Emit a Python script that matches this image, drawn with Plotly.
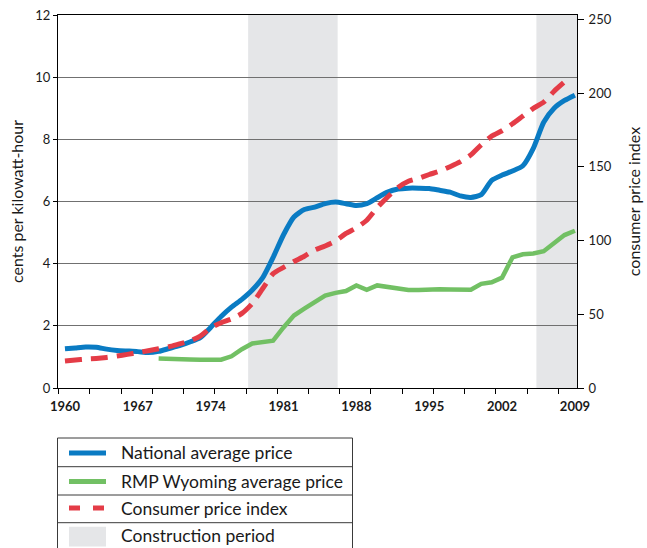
import plotly.graph_objects as go

# ---------------- data ----------------
YEARS = list(range(1960, 2010))

NATIONAL = [1.26, 1.29, 1.32, 1.31, 1.25, 1.21, 1.19, 1.17, 1.14, 1.18,
            1.27, 1.36, 1.48, 1.62, 1.95, 2.30, 2.60, 2.85, 3.15, 3.55,
            4.20, 4.93, 5.50, 5.74, 5.82, 5.93, 5.98, 5.93, 5.87, 5.93,
            6.12, 6.30, 6.40, 6.43, 6.43, 6.42, 6.36, 6.30, 6.18, 6.13,
            6.22, 6.68, 6.85, 6.98, 7.15, 7.71, 8.55, 9.00, 9.25, 9.42]

WYOMING_YEARS = list(range(1969, 2010))
WYOMING = [0.95, 0.93, 0.92, 0.92, 0.91, 0.91, 0.91, 1.02, 1.25, 1.43,
           1.46, 1.52, 1.95, 2.33, 2.55, 2.78, 2.97, 3.06, 3.12, 3.30,
           3.16, 3.30, 3.24, 3.19, 3.15, 3.15, 3.18, 3.18, 3.17, 3.16,
           3.16, 3.35, 3.40, 3.55, 4.20, 4.30, 4.33, 4.40, 4.65, 4.92, 5.06]

CPI_YEARS = list(range(1960, 2009))
CPI = [18.3, 19.0, 19.6, 20.0, 20.7, 21.7, 22.8, 24.0, 25.3, 26.6,
       28.0, 29.9, 31.8, 35.2, 40.7, 44.3, 46.8, 50.6, 57.3, 67.5,
       77.6, 81.8, 85.8, 89.4, 93.6, 96.3, 99.7, 104.8, 108.6, 113.8,
       122.3, 129.6, 136.0, 140.2, 142.3, 144.8, 147.1, 150.1, 153.5, 158.1,
       164.9, 170.8, 174.5, 179.2, 184.5, 189.7, 193.9, 201.3, 207.6]

CONSTRUCTION = [(1977.6, 1986.2), (2005.3, 2009.3)]

X_TICKS = [1960, 1967, 1974, 1981, 1988, 1995, 2002, 2009]
Y_TICKS = [0, 2, 4, 6, 8, 10, 12]
Y2_TICKS = [0, 50, 100, 150, 200, 250]

LEGEND_LABELS = ["National average price", "RMP Wyoming average price",
                 "Consumer price index", "Construction period"]

# ---------------- styling ----------------
BLUE = "#0a7bc3"
GREEN = "#72c064"
RED = "#e43c47"
SHADE = "#e5e6e8"
FONT = "Lato"
INK = "#1a1a1a"

W, H = 647, 548
ML, MR, MT, MB = 58, 70, 15, 160
PW, PH = W - ML - MR, H - MT - MB

fig = go.Figure()

fig.add_trace(go.Scatter(x=YEARS, y=NATIONAL, mode="lines", name=LEGEND_LABELS[0],
                         line=dict(color=BLUE, width=5, shape="spline", smoothing=0.6),
                         showlegend=False))
fig.add_trace(go.Scatter(x=WYOMING_YEARS, y=WYOMING, mode="lines", name=LEGEND_LABELS[1],
                         line=dict(color=GREEN, width=4.5),
                         showlegend=False))
fig.add_trace(go.Scatter(x=CPI_YEARS, y=CPI, mode="lines", name=LEGEND_LABELS[2],
                         yaxis="y2",
                         line=dict(color=RED, width=5, dash="17px,9px", shape="spline", smoothing=0.6),
                         showlegend=False))

for x0, x1 in CONSTRUCTION:
    fig.add_shape(type="rect", xref="x", yref="paper", x0=x0, x1=x1, y0=0, y1=1,
                  fillcolor=SHADE, line=dict(width=0), layer="below")

# ---------------- manual legend (table style) ----------------
def px_x(p):
    return (p - ML) / PW

def px_y(p):
    return (H - MB - p) / PH

box_l, box_r = 57.5, 352.5
rows = [438, 466.7, 495, 522.7, 552]
fig.add_shape(type="rect", xref="paper", yref="paper",
              x0=px_x(box_l), x1=px_x(box_r), y0=px_y(rows[0]), y1=px_y(rows[-1]),
              line=dict(color="#3a3a3a", width=1), fillcolor="rgba(0,0,0,0)")
for r in rows[1:-1]:
    fig.add_shape(type="line", xref="paper", yref="paper",
                  x0=px_x(box_l), x1=px_x(box_r), y0=px_y(r), y1=px_y(r),
                  line=dict(color="#3a3a3a", width=1))

centers = [452.5, 481.0, 508.0, 535.5]
sx0, sx1 = 69, 106
fig.add_shape(type="line", xref="paper", yref="paper", x0=px_x(sx0), x1=px_x(sx1),
              y0=px_y(453), y1=px_y(453), line=dict(color=BLUE, width=5))
fig.add_shape(type="line", xref="paper", yref="paper", x0=px_x(sx0), x1=px_x(sx1),
              y0=px_y(481.5), y1=px_y(481.5), line=dict(color=GREEN, width=5))
fig.add_shape(type="line", xref="paper", yref="paper", x0=px_x(sx0), x1=px_x(sx1),
              y0=px_y(508), y1=px_y(508),
              line=dict(color=RED, width=5, dash="11px,13px"))
fig.add_shape(type="rect", xref="paper", yref="paper", x0=px_x(sx0), x1=px_x(sx1),
              y0=px_y(526.7), y1=px_y(546.5), fillcolor=SHADE, line=dict(width=0))

for lab, cy in zip(LEGEND_LABELS, centers):
    fig.add_annotation(text=lab, xref="paper", yref="paper", x=px_x(119), y=px_y(cy),
                       xanchor="left", yanchor="middle", showarrow=False,
                       font=dict(family=FONT, size=17.5, color=INK))

# ---------------- layout ----------------
fig.update_layout(
    width=W, height=H,
    margin=dict(l=ML, r=MR, t=MT, b=MB, pad=0, autoexpand=False),
    paper_bgcolor="white", plot_bgcolor="white",
    font=dict(family=FONT, color=INK),
    showlegend=False,
    xaxis=dict(
        range=[1959.33, 2009.2], automargin=False,
        tickmode="array", tickvals=X_TICKS, ticktext=[str(v) for v in X_TICKS],
        ticks="", ticklabelstandoff=6,
        tickfont=dict(family=FONT, size=13, color=INK, weight="bold"),
        showgrid=False, zeroline=False,
        showline=True, linecolor="black", linewidth=1, mirror=True,
        minor=dict(tickmode="linear", tick0=1959.4, dtick=3, ticks="outside",
                   ticklen=5, tickwidth=1, tickcolor="black", showgrid=False),
    ),
    yaxis=dict(
        range=[0, 12], tickvals=Y_TICKS, automargin=False,
        ticks="outside", ticklen=4, tickwidth=1, tickcolor="black",
        tickfont=dict(family=FONT, size=13, color=INK),
        showgrid=True, gridcolor="#707070", gridwidth=1.3,
        zeroline=False, showline=True, linecolor="black", linewidth=1,
        title=dict(text="cents per kilowatt-hour", standoff=7,
                   font=dict(family=FONT, size=16, color=INK)),
    ),
    yaxis2=dict(
        range=[0, 253], tickvals=Y2_TICKS, overlaying="y", side="right", automargin=False,
        ticks="outside", ticklen=6, tickwidth=1, tickcolor="black", ticklabelstandoff=2,
        tickfont=dict(family=FONT, size=13, color=INK),
        showgrid=False, zeroline=False, showline=True, linecolor="black", linewidth=1,
        title=dict(text="consumer price index", standoff=18,
                   font=dict(family=FONT, size=16, color=INK)),
    ),
)

fig.write_html("out.html", config={"displayModeBar": False},
               post_script="document.body.style.margin='0';document.body.style.overflow='hidden';")
